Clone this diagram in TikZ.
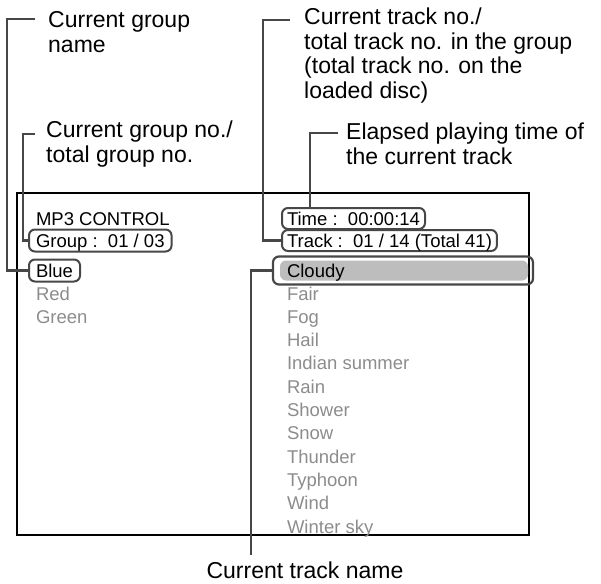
\documentclass[tikz,border=0pt]{standalone}
\usepackage{fontspec}
\setmainfont{Liberation Sans}
\usetikzlibrary{calc,positioning}
\definecolor{leadgray}{gray}{0.28}
\definecolor{dimgray}{gray}{0.55}
\definecolor{barfill}{gray}{0.74}
\tikzset{
  note/.style={anchor=north west,inner sep=0pt,align=left,font=\fontsize{23}{24.5}\selectfont},
  item/.style={anchor=text,inner sep=0pt,font=\fontsize{18.5}{20}\selectfont},
  dimitem/.style={item,text=dimgray},
  tag/.style={item,draw=leadgray,line width=2pt,rounded corners=6pt,inner xsep=7pt,
    text height=13pt,text depth=0pt,minimum height=22pt},
  tagr/.style={tag,inner xsep=5pt,minimum height=21pt},
  bar/.style={tag,inner xsep=14pt,text width=232pt,align=left,minimum height=28pt,line width=2.2pt,
    path picture={\fill[barfill] ([xshift=7pt,yshift=4pt]path picture bounding box.south west)
      rectangle ([xshift=-5pt,yshift=-4pt]path picture bounding box.north east);}},
  lead/.style={draw=leadgray,line width=2.2pt},
  screen/.style={draw=black,line width=1.2pt}
}

\begin{document}
\begin{tikzpicture}[x=1pt,y=-1pt]
\useasboundingbox (0,0) rectangle (601,583);
% screen frame
\draw[screen] (17,193) rectangle (529,535);

% left column
\node[item] (mp3) at (36,225) {MP3 CONTROL};
\node[tag] (group) at (36,247) {Group :\ \ 01 / 03};
\node[tag] (blue) at (36,277) {Blue\ };
\node[dimitem] (red) at (36,300) {Red};
\node[dimitem] (green) at (36,323) {Green};

% right column
\node[tagr] (time) at (287,225) {Time :\ \ 00:00:14};
\node[tagr] (track) at (287,247) {Track :\ \ 01 / 14 (Total 41)};
\node[bar] (cloudy) at (287,277) {Cloudy};
\node[dimitem] (fair) at (287,300) {Fair};
\node[dimitem] (fog) at (287,323.3) {Fog};
\node[dimitem] (hail) at (287,346.6) {Hail};
\node[dimitem] (indian) at (287,369.9) {Indian summer};
\node[dimitem] (rain) at (287,393.2) {Rain};
\node[dimitem] (shower) at (287,416.5) {Shower};
\node[dimitem] (snow) at (287,439.8) {Snow};
\node[dimitem] (thunder) at (287,463.1) {Thunder};
\node[dimitem] (typhoon) at (287,486.4) {Typhoon};
\node[dimitem] (wind) at (287,509.7) {Wind};
\node[dimitem] (winter) at (287,533) {Winter sky};

% callouts
\node[note] (grpname) at (48,11.5) {Current group\\name};
\node[note] (grpno) at (46,121) {Current group no./\\total group no.};
\node[note] (trkno) at (304,8) {Current track no./\\total track no. in the group\\(total track no. on the\\loaded disc)};
\node[note] (elapsed) at (346,123) {Elapsed playing time of\\the current track};
\node[note,anchor=base] (trkname) at (305,578) {Current track name};

\coordinate (gn) at (35,19);
\coordinate (gno) at (35,134);
\coordinate (tno) at (290,20);
\coordinate (el) at (338,133);
\coordinate (tn) at (251,555);

\draw[lead] (gn) -- ++(-28,0) |- (blue.west);
\draw[lead] (gno) -- ++(-12,0) |- (group.west);
\draw[lead] (tno) -- ++(-27,0) |- (track.west);
\draw[lead] (el) -- ++(-28,0) coordinate (elk) -- (elk |- time.north);
\draw[lead] (cloudy.west) -| (tn);
\end{tikzpicture}
\end{document}
